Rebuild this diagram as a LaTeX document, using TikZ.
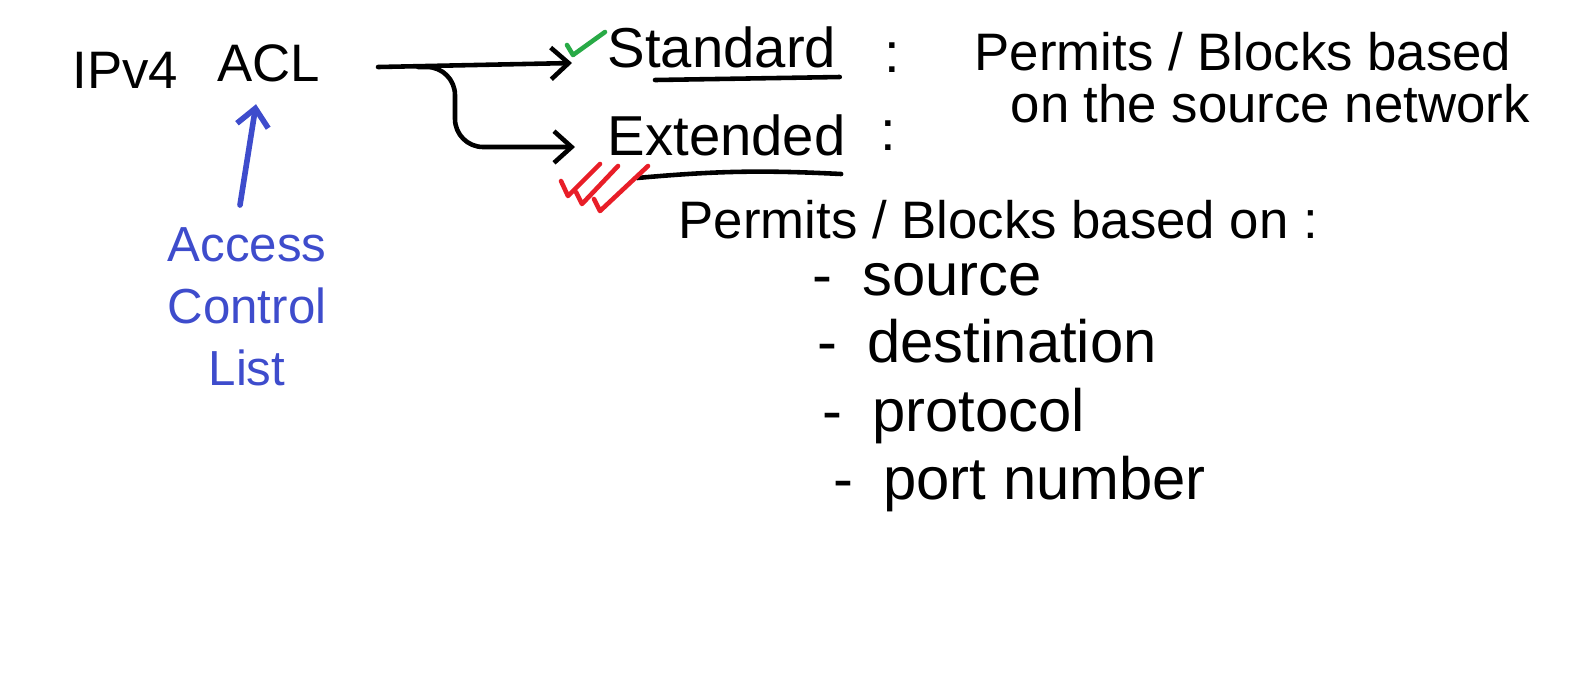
\documentclass[tikz,border=0pt]{standalone}
\usepackage{fontspec}
\setmainfont{Liberation Sans}
\usetikzlibrary{calc,arrows.meta}
\definecolor{inkblue}{RGB}{62,76,204}
\definecolor{inkgreen}{RGB}{40,170,70}
\definecolor{inkred}{RGB}{232,30,40}
\tikzset{
  pen/.style={line width=1.3pt, line cap=round, line join=round},
  hand/.style={inner sep=0pt, anchor=base west, font=\fontsize{16}{19}\selectfont},
  small/.style={hand, font=\fontsize{15}{18}\selectfont},
  item/.style={hand, font=\fontsize{17}{20}\selectfont},
}
\begin{document}
\begin{tikzpicture}[x=0.01cm, y=-0.01cm, >={Straight Barb[length=5pt,width=9pt]}]
\useasboundingbox (0,0) rectangle (1581,693);
% Title
\node[small] (ipv4) at (72,88) {IPv4};
\node[small] (acl) at (217,81) {ACL};
% Blue note below the title
\node[inkblue, align=center, inner sep=0pt, anchor=north, font=\fontsize{14}{17.6}\selectfont] (acc) at (247,227) {Access\\Control\\List};
\draw[pen, inkblue, line width=1.6pt, ->] ($(acc.north)+(-7,-22)$) -- ($(acl.south)+(-13,22)$);
% Standard
\node[hand] (std) at (607,67) {Standard};
\node[hand] (stdcol) at (884,72) {:};
\node[small] (stddesc) at (974,70) {Permits / Blocks based};
\node[small] (stddesc2) at (1010,122) {on the source network};
\draw[pen] ($(std.base west)+(48,13)$) -- ($(std.base east)+(3,10)$);
% Extended
\node[hand] (ext) at (607,155) {Extended};
\node[hand] (extcol) at (880,150) {:};
\draw[pen] ($(ext.base west)+(30,23)$) to[bend left=4] ($(ext.base east)+(-5,19)$);
\node[small] (extdesc) at (678,238) {Permits / Blocks based on :};
% List of fields
\node[item] (src) at (812,295) {-\enspace source};
\node[item] (dst) at (817,362) {-\enspace destination};
\node[item] (proto) at (822,431) {-\enspace protocol};
\node[item] (port) at (833,499) {-\enspace port number};
% Arrows from ACL
\coordinate (fork) at ($(acl.base east)+(97,-14)$);
\draw[pen, ->] ($(acl.base east)+(57,-14)$) -- ($(std.base west)+(-35,-4)$);
\draw[pen, ->, rounded corners=8pt] (fork) -| ($(ext.base west)+(-152,-8)$) -- ($(ext.base west)+(-32,-8)$);
% Check marks
\begin{scope}[shift={(std.base west)}]
\draw[pen, inkgreen] (-40,-22) -- (-34,-12) -- (-2,-35);
\end{scope}
\begin{scope}[shift={(ext.base west)}]
\draw[pen, inkred] (-46,26) -- (-39,41) -- (-7,9);
\draw[pen, inkred] (-31,37) -- (-25,49) -- (11,11);
\draw[pen, inkred] (-13,44) -- (-7,56) -- (41,11);
\end{scope}
\end{tikzpicture}
\end{document}
